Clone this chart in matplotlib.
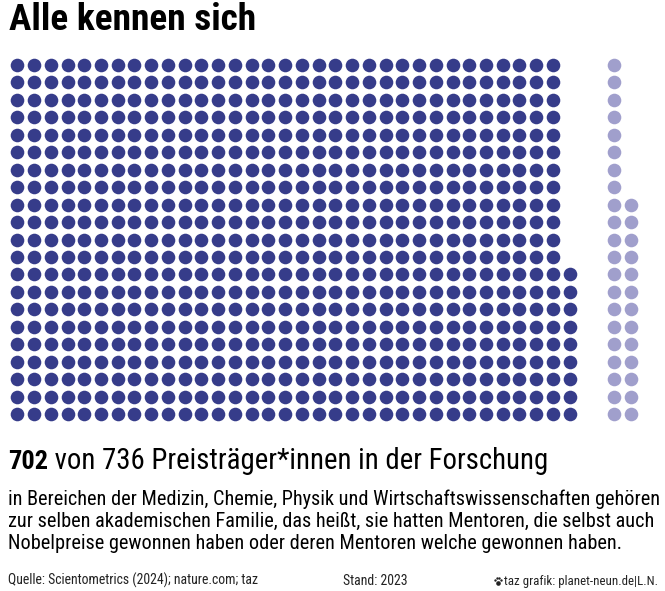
import matplotlib
matplotlib.use("Agg")
import matplotlib.pyplot as plt
import numpy as np

# ---- data ----
total = 736
connected = 702
others = total - connected
n_rows = 21
title = "Alle kennen sich"
headline_bold = "702"
headline_rest = " von 736 Preisträger*innen in der Forschung"
body_lines = [
    "in Bereichen der Medizin, Chemie, Physik und Wirtschaftswissenschaften gehören",
    "zur selben akademischen Familie, das heißt, sie hatten Mentoren, die selbst auch",
    "Nobelpreise gewonnen haben oder deren Mentoren welche gewonnen haben.",
]
source = "Quelle: Scientometrics (2024); nature.com; taz"
stand = "Stand: 2023"
credit = "taz grafik: planet-neun.de|L.N."

DARK = "#363c8a"
LIGHT = "#a09fcc"
FONT = ["Roboto Condensed", "DejaVu Sans"]

W, H = 665, 591
fig = plt.figure(figsize=(W / 100, H / 100), dpi=100)
ax = fig.add_axes([0, 0, 1, 1])
ax.set_xlim(0, W)
ax.set_ylim(H, 0)
ax.axis("off")
renderer = fig.canvas.get_renderer()

x0, dx = 17.3, 16.74
y0, dy = 65.0, 17.45
light_x0 = 614.0


def grid(n, n_rows):
    # fill columns bottom-up, left to right
    idx = np.arange(n)
    cols = idx // n_rows
    rows = n_rows - 1 - (idx % n_rows)
    return cols, rows


c_d, r_d = grid(connected, n_rows)
c_l, r_l = grid(others, n_rows)
s = (13.6 * 72 / 100) ** 2
ax.scatter(x0 + c_d * dx, y0 + r_d * dy, s=s, color=DARK, linewidths=0)
ax.scatter(light_x0 + c_l * dx, y0 + r_l * dy, s=s, color=LIGHT, linewidths=0)


def fit_text(x, y, text, width, size, **kw):
    t = ax.text(x, y, text, fontsize=size, family=FONT, va="baseline", **kw)
    w = t.get_window_extent(renderer).width
    t.set_fontsize(size * width / w)
    return t


fit_text(9, 30, title, 248, 24, fontweight="bold", ha="left")

tb = fit_text(8, 469, headline_bold, 40, 17, fontweight="bold", ha="left")
bw = tb.get_window_extent(renderer).width
hs = tb.get_fontsize()
tr = ax.text(8 + bw, 469, headline_rest, fontsize=hs, family=FONT,
             va="baseline", ha="left")
wr = tr.get_window_extent(renderer).width
tr.set_fontsize(hs * (548 - 8 - bw) / wr)

t1 = fit_text(8, 505.3, body_lines[0], 650, 15.5, ha="left")
bs = t1.get_fontsize()
for i, line in enumerate(body_lines[1:], start=1):
    ax.text(8, 505.3 + i * 21.7, line, fontsize=bs, family=FONT,
            va="baseline", ha="left")

fs = fit_text(8, 585, source, 249, 10, ha="left", color="#222222")
fsz = fs.get_fontsize()
ax.text(343, 585, stand, fontsize=fsz, family=FONT, va="baseline", ha="left", color="#222222")
fit_text(658, 585, credit, 153, 10, ha="right", color="#222222")

# small paw icon
px, py = 498, 581
ax.scatter([px - 3.0, px - 1.0, px + 1.1, px + 3.0], [py - 1.4, py - 3.4, py - 3.4, py - 1.4],
           s=3.0, color="#222222", linewidths=0)
ax.scatter([px], [py + 1.6], s=11, color="#222222", linewidths=0)

fig.savefig("out.png", dpi=100)
